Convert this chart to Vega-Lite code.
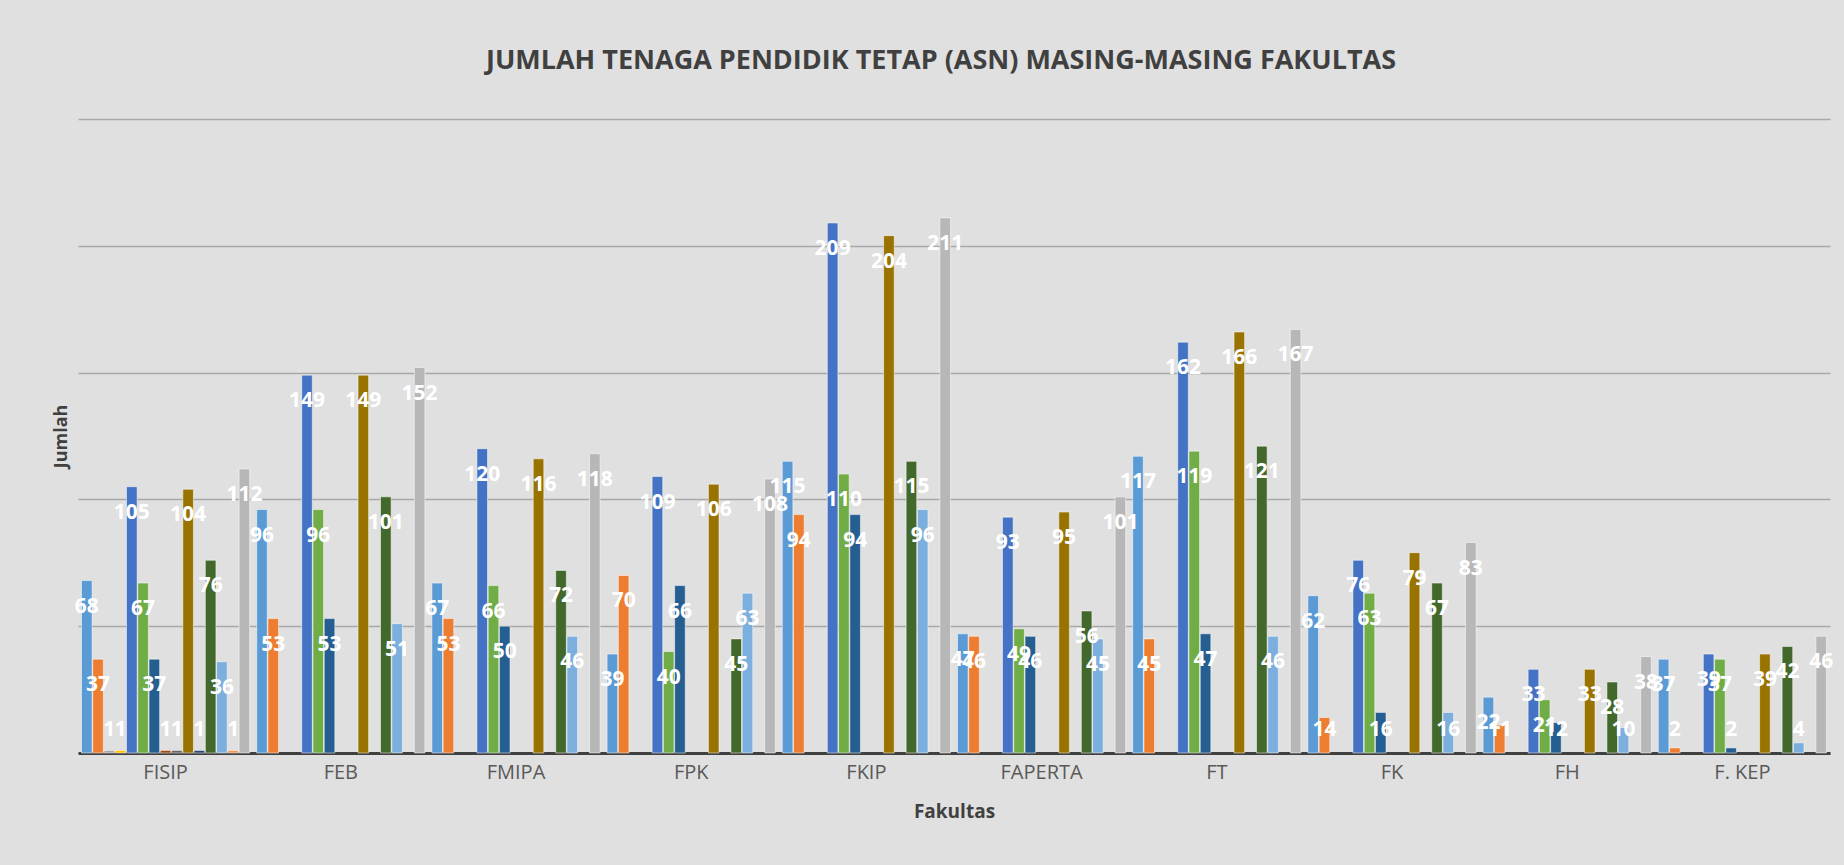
{
  "$schema": "https://vega.github.io/schema/vega-lite/v6.json",
  "width": 1752,
  "height": 634,
  "autosize": {"type": "none"},
  "padding": {"left": 78, "top": 119, "right": 14, "bottom": 112},
  "background": "#e0e0e0",
  "title": {
    "text": "JUMLAH TENAGA PENDIDIK TETAP (ASN) MASING-MASING FAKULTAS",
    "font": "Open Sans",
    "fontSize": 27,
    "fontWeight": "bold",
    "color": "#404040",
    "anchor": "middle",
    "offset": 44,
    "dx": -13
  },
  "config": {
    "view": {"stroke": null},
    "font": "Open Sans"
  },
  "data": {
    "values": [
      {"fakultas": "FISIP", "seri": "Seri 1", "jumlah": 68},
      {"fakultas": "FISIP", "seri": "Seri 2", "jumlah": 37},
      {"fakultas": "FISIP", "seri": "Seri 3", "jumlah": 1},
      {"fakultas": "FISIP", "seri": "Seri 4", "jumlah": 1},
      {"fakultas": "FISIP", "seri": "Seri 5", "jumlah": 105},
      {"fakultas": "FISIP", "seri": "Seri 6", "jumlah": 67},
      {"fakultas": "FISIP", "seri": "Seri 7", "jumlah": 37},
      {"fakultas": "FISIP", "seri": "Seri 8", "jumlah": 1},
      {"fakultas": "FISIP", "seri": "Seri 9", "jumlah": 1},
      {"fakultas": "FISIP", "seri": "Seri 10", "jumlah": 104},
      {"fakultas": "FISIP", "seri": "Seri 11", "jumlah": 1},
      {"fakultas": "FISIP", "seri": "Seri 12", "jumlah": 76},
      {"fakultas": "FISIP", "seri": "Seri 13", "jumlah": 36},
      {"fakultas": "FISIP", "seri": "Seri 14", "jumlah": 1},
      {"fakultas": "FISIP", "seri": "Seri 15", "jumlah": 112},
      {"fakultas": "FEB", "seri": "Seri 1", "jumlah": 96},
      {"fakultas": "FEB", "seri": "Seri 2", "jumlah": 53},
      {"fakultas": "FEB", "seri": "Seri 5", "jumlah": 149},
      {"fakultas": "FEB", "seri": "Seri 6", "jumlah": 96},
      {"fakultas": "FEB", "seri": "Seri 7", "jumlah": 53},
      {"fakultas": "FEB", "seri": "Seri 10", "jumlah": 149},
      {"fakultas": "FEB", "seri": "Seri 12", "jumlah": 101},
      {"fakultas": "FEB", "seri": "Seri 13", "jumlah": 51},
      {"fakultas": "FEB", "seri": "Seri 15", "jumlah": 152},
      {"fakultas": "FMIPA", "seri": "Seri 1", "jumlah": 67},
      {"fakultas": "FMIPA", "seri": "Seri 2", "jumlah": 53},
      {"fakultas": "FMIPA", "seri": "Seri 5", "jumlah": 120},
      {"fakultas": "FMIPA", "seri": "Seri 6", "jumlah": 66},
      {"fakultas": "FMIPA", "seri": "Seri 7", "jumlah": 50},
      {"fakultas": "FMIPA", "seri": "Seri 10", "jumlah": 116},
      {"fakultas": "FMIPA", "seri": "Seri 12", "jumlah": 72},
      {"fakultas": "FMIPA", "seri": "Seri 13", "jumlah": 46},
      {"fakultas": "FMIPA", "seri": "Seri 15", "jumlah": 118},
      {"fakultas": "FPK", "seri": "Seri 1", "jumlah": 39},
      {"fakultas": "FPK", "seri": "Seri 2", "jumlah": 70},
      {"fakultas": "FPK", "seri": "Seri 5", "jumlah": 109},
      {"fakultas": "FPK", "seri": "Seri 6", "jumlah": 40},
      {"fakultas": "FPK", "seri": "Seri 7", "jumlah": 66},
      {"fakultas": "FPK", "seri": "Seri 10", "jumlah": 106},
      {"fakultas": "FPK", "seri": "Seri 12", "jumlah": 45},
      {"fakultas": "FPK", "seri": "Seri 13", "jumlah": 63},
      {"fakultas": "FPK", "seri": "Seri 15", "jumlah": 108},
      {"fakultas": "FKIP", "seri": "Seri 1", "jumlah": 115},
      {"fakultas": "FKIP", "seri": "Seri 2", "jumlah": 94},
      {"fakultas": "FKIP", "seri": "Seri 5", "jumlah": 209},
      {"fakultas": "FKIP", "seri": "Seri 6", "jumlah": 110},
      {"fakultas": "FKIP", "seri": "Seri 7", "jumlah": 94},
      {"fakultas": "FKIP", "seri": "Seri 10", "jumlah": 204},
      {"fakultas": "FKIP", "seri": "Seri 12", "jumlah": 115},
      {"fakultas": "FKIP", "seri": "Seri 13", "jumlah": 96},
      {"fakultas": "FKIP", "seri": "Seri 15", "jumlah": 211},
      {"fakultas": "FAPERTA", "seri": "Seri 1", "jumlah": 47},
      {"fakultas": "FAPERTA", "seri": "Seri 2", "jumlah": 46},
      {"fakultas": "FAPERTA", "seri": "Seri 5", "jumlah": 93},
      {"fakultas": "FAPERTA", "seri": "Seri 6", "jumlah": 49},
      {"fakultas": "FAPERTA", "seri": "Seri 7", "jumlah": 46},
      {"fakultas": "FAPERTA", "seri": "Seri 10", "jumlah": 95},
      {"fakultas": "FAPERTA", "seri": "Seri 12", "jumlah": 56},
      {"fakultas": "FAPERTA", "seri": "Seri 13", "jumlah": 45},
      {"fakultas": "FAPERTA", "seri": "Seri 15", "jumlah": 101},
      {"fakultas": "FT", "seri": "Seri 1", "jumlah": 117},
      {"fakultas": "FT", "seri": "Seri 2", "jumlah": 45},
      {"fakultas": "FT", "seri": "Seri 5", "jumlah": 162},
      {"fakultas": "FT", "seri": "Seri 6", "jumlah": 119},
      {"fakultas": "FT", "seri": "Seri 7", "jumlah": 47},
      {"fakultas": "FT", "seri": "Seri 10", "jumlah": 166},
      {"fakultas": "FT", "seri": "Seri 12", "jumlah": 121},
      {"fakultas": "FT", "seri": "Seri 13", "jumlah": 46},
      {"fakultas": "FT", "seri": "Seri 15", "jumlah": 167},
      {"fakultas": "FK", "seri": "Seri 1", "jumlah": 62},
      {"fakultas": "FK", "seri": "Seri 2", "jumlah": 14},
      {"fakultas": "FK", "seri": "Seri 5", "jumlah": 76},
      {"fakultas": "FK", "seri": "Seri 6", "jumlah": 63},
      {"fakultas": "FK", "seri": "Seri 7", "jumlah": 16},
      {"fakultas": "FK", "seri": "Seri 10", "jumlah": 79},
      {"fakultas": "FK", "seri": "Seri 12", "jumlah": 67},
      {"fakultas": "FK", "seri": "Seri 13", "jumlah": 16},
      {"fakultas": "FK", "seri": "Seri 15", "jumlah": 83},
      {"fakultas": "FH", "seri": "Seri 1", "jumlah": 22},
      {"fakultas": "FH", "seri": "Seri 2", "jumlah": 11},
      {"fakultas": "FH", "seri": "Seri 5", "jumlah": 33},
      {"fakultas": "FH", "seri": "Seri 6", "jumlah": 21},
      {"fakultas": "FH", "seri": "Seri 7", "jumlah": 12},
      {"fakultas": "FH", "seri": "Seri 10", "jumlah": 33},
      {"fakultas": "FH", "seri": "Seri 12", "jumlah": 28},
      {"fakultas": "FH", "seri": "Seri 13", "jumlah": 10},
      {"fakultas": "FH", "seri": "Seri 15", "jumlah": 38},
      {"fakultas": "F. KEP", "seri": "Seri 1", "jumlah": 37},
      {"fakultas": "F. KEP", "seri": "Seri 2", "jumlah": 2},
      {"fakultas": "F. KEP", "seri": "Seri 5", "jumlah": 39},
      {"fakultas": "F. KEP", "seri": "Seri 6", "jumlah": 37},
      {"fakultas": "F. KEP", "seri": "Seri 7", "jumlah": 2},
      {"fakultas": "F. KEP", "seri": "Seri 10", "jumlah": 39},
      {"fakultas": "F. KEP", "seri": "Seri 12", "jumlah": 42},
      {"fakultas": "F. KEP", "seri": "Seri 13", "jumlah": 4},
      {"fakultas": "F. KEP", "seri": "Seri 15", "jumlah": 46}
    ]
  },
  "encoding": {
    "x": {
      "field": "fakultas",
      "type": "nominal",
      "sort": ["FISIP", "FEB", "FMIPA", "FPK", "FKIP", "FAPERTA", "FT", "FK", "FH", "F. KEP"],
      "scale": {"paddingInner": 0.04, "paddingOuter": 0.02},
      "axis": {
        "title": "Fakultas",
        "labelAngle": 0,
        "labelFontSize": 20,
        "labelColor": "#595959",
        "labelPadding": 9,
        "ticks": false,
        "domainColor": "#404040",
        "domainWidth": 3,
        "titleFontSize": 19,
        "titleFontWeight": "bold",
        "titleColor": "#404040",
        "titlePadding": 20
      }
    },
    "xOffset": {
      "field": "seri",
      "type": "nominal",
      "scale": {
        "domain": ["Seri 1", "Seri 2", "Seri 3", "Seri 4", "Seri 5", "Seri 6", "Seri 7", "Seri 8", "Seri 9", "Seri 10", "Seri 11", "Seri 12", "Seri 13", "Seri 14", "Seri 15"],
        "paddingInner": 0.06
      }
    },
    "y": {
      "field": "jumlah",
      "type": "quantitative",
      "scale": {"domain": [0, 250], "nice": false},
      "axis": {
        "title": "Jumlah",
        "labels": false,
        "ticks": false,
        "domain": false,
        "values": [0, 50, 100, 150, 200, 250],
        "gridColor": "#a8a8a8",
        "gridWidth": 1.5,
        "titleFontSize": 18,
        "titleFontWeight": "bold",
        "titleColor": "#404040",
        "titlePadding": 8
      }
    }
  },
  "layer": [
    {
      "mark": {"type": "bar", "stroke": "#ffffff", "strokeOpacity": 0.5, "strokeWidth": 1},
      "encoding": {
        "color": {
          "field": "seri",
          "type": "nominal",
          "scale": {
            "domain": ["Seri 1", "Seri 2", "Seri 3", "Seri 4", "Seri 5", "Seri 6", "Seri 7", "Seri 8", "Seri 9", "Seri 10", "Seri 11", "Seri 12", "Seri 13", "Seri 14", "Seri 15"],
            "range": ["#5B9BD5", "#ED7D31", "#A5A5A5", "#FFC000", "#4472C4", "#70AD47", "#255E91", "#9E480E", "#636363", "#997300", "#264478", "#43682B", "#7CAFDD", "#F1975A", "#B7B7B7"]
          },
          "legend": null
        }
      }
    },
    {
      "transform": [{"filter": "datum.jumlah >= 20"}],
      "mark": {"type": "text", "dy": 26, "fontSize": 21, "fontWeight": "bold", "fill": "#ffffff", "baseline": "middle", "align": "center"},
      "encoding": {"text": {"field": "jumlah", "type": "quantitative"}}
    },
    {
      "transform": [{"filter": "datum.jumlah < 20"}],
      "mark": {"type": "text", "dy": -23, "fontSize": 21, "fontWeight": "bold", "fill": "#ffffff", "baseline": "middle", "align": "center"},
      "encoding": {
        "y": {"datum": 0, "type": "quantitative"},
        "text": {"field": "jumlah", "type": "quantitative"}
      }
    }
  ]
}
